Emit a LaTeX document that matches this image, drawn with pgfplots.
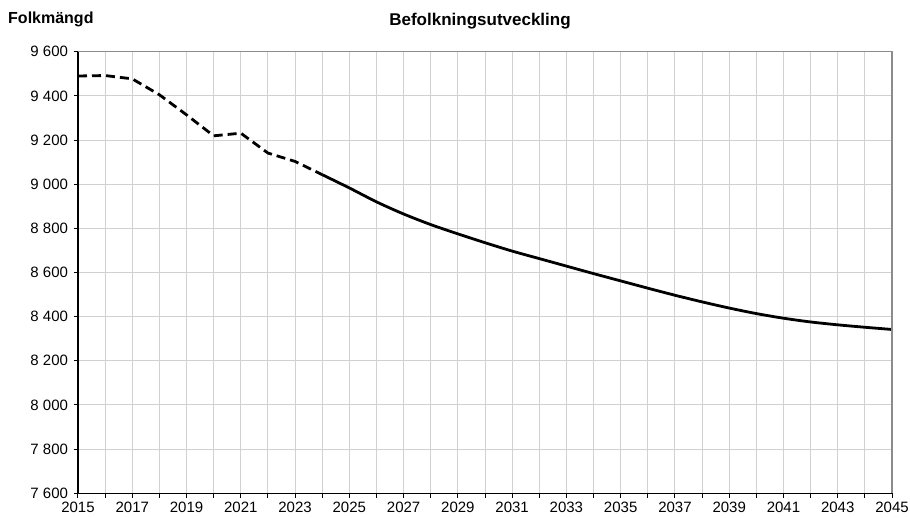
\documentclass[border=0pt]{standalone}
\usepackage{pgfplots}
\pgfplotsset{compat=1.18}
\usepackage{fontspec}
\setmainfont{Liberation Sans}
\begin{document}
\begin{tikzpicture}[x=1pt,y=1pt]
\path[use as bounding box] (-78,-23.7) rectangle (832,493.3);
\begin{axis}[
  at={(0,0)}, anchor=south west,
  scale only axis, width=814pt, height=441.6pt,
  xmin=2015, xmax=2045, ymin=7600, ymax=9600,
  axis lines=left,
  axis line style={-, black, line width=1.1pt},
  xtick={2015,2017,...,2045},
  minor xtick={2016,2018,...,2044},
  ytick={7600,7800,...,9600},
  yticklabels={7 600,7 800,8 000,8 200,8 400,8 600,8 800,9 000,9 200,9 400,9 600},
  grid=both,
  major grid style={draw=black!18, line width=1pt},
  minor grid style={draw=black!18, line width=1pt},
  tick align=outside,
  major tick length=4.5pt, minor tick length=4.5pt,
  tick style={black, line width=1pt},
  every tick label/.append style={font=\fontsize{15}{18}\selectfont},
  /pgf/number format/assume math mode=true,
  x tick label style={/pgf/number format/1000 sep={}, yshift=-1pt},
  y tick label style={xshift=-2pt},
  clip=false,
]
\addplot[black, line width=2.8pt, dash pattern=on 9pt off 5pt] coordinates {
(2015,9490) (2016,9492) (2017,9477) (2018,9405) (2019,9314) (2020,9219)
(2021,9231) (2022,9141) (2023,9103) (2024,9043)
};
\addplot[black, line width=2.8pt, smooth] coordinates {
(2024,9043) (2025,8983) (2026,8920) (2027,8865) (2028,8817) (2029,8775)
(2030,8735) (2031,8697) (2032,8663) (2033,8629) (2034,8595) (2035,8562)
(2036,8529) (2037,8497) (2038,8467) (2039,8439) (2040,8414) (2041,8393)
(2042,8376) (2043,8363) (2044,8352) (2045,8342)
};
\draw[black!45, line width=1.3pt] (rel axis cs:0,1) -- (rel axis cs:1,1) -- (rel axis cs:1,0);
\end{axis}
\node[anchor=west, font=\bfseries\fontsize{16}{19}\selectfont, inner sep=0] at (-70,474) {Folkmängd};
\node[font=\bfseries\fontsize{17}{20}\selectfont, inner sep=0] at (402,472) {Befolkningsutveckling};
\end{tikzpicture}
\end{document}
